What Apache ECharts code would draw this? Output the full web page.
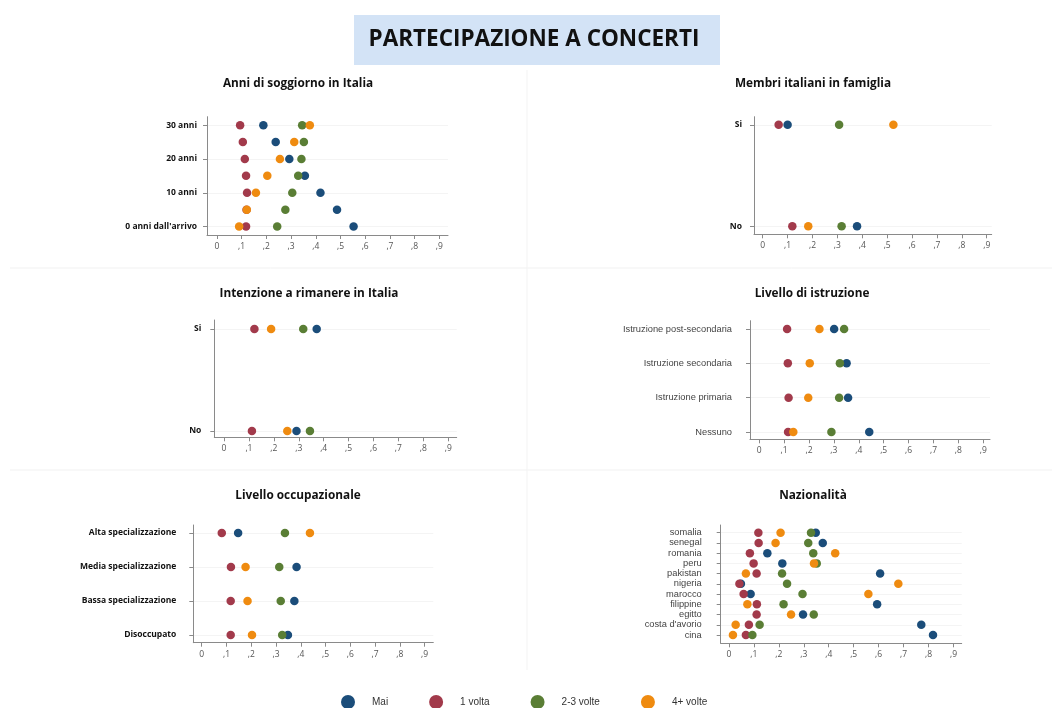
<!DOCTYPE html>
<html>
<head>
<meta charset="utf-8">
<script src="https://cdn.jsdelivr.net/npm/echarts@6/dist/echarts.min.js"></script>
<style>
html,body{margin:0;padding:0;background:#fff;}
#main{width:1062px;height:708px;}
</style>
</head>
<body>
<div id="main"></div>
<script>
// ---------- DATA ----------
const groupNames = ['Mai', '1 volta', '2-3 volte', '4+ volte'];
const xTicks = [0, 0.1, 0.2, 0.3, 0.4, 0.5, 0.6, 0.7, 0.8, 0.9];

// Panel 1: Anni di soggiorno in Italia (bottom -> top)
const soggiornoCats = ["0 anni dall'arrivo", "", "10 anni", "", "20 anni", "", "30 anni"];
const soggiornoMai    = [0.553, 0.486, 0.419, 0.356, 0.293, 0.238, 0.188];
const soggiorno1      = [0.118, 0.120, 0.122, 0.118, 0.113, 0.105, 0.094];
const soggiorno23     = [0.244, 0.277, 0.305, 0.329, 0.342, 0.352, 0.345];
const soggiorno4      = [0.090, 0.121, 0.158, 0.204, 0.255, 0.313, 0.376];

// Panel 2: Membri italiani in famiglia
const famigliaCats = ['No', 'Si'];
const famigliaMai = [0.379, 0.100];
const famiglia1   = [0.119, 0.064];
const famiglia23  = [0.317, 0.307];
const famiglia4   = [0.183, 0.525];

// Panel 3: Intenzione a rimanere in Italia
const intenzioneCats = ['No', 'Si'];
const intenzioneMai = [0.291, 0.372];
const intenzione1   = [0.112, 0.122];
const intenzione23  = [0.345, 0.318];
const intenzione4   = [0.254, 0.189];

// Panel 4: Livello di istruzione
const istruzioneCats = ['Nessuno', 'Istruzione primaria', 'Istruzione secondaria', 'Istruzione post-secondaria'];
const istruzioneMai = [0.442, 0.357, 0.351, 0.301];
const istruzione1   = [0.116, 0.118, 0.115, 0.112];
const istruzione23  = [0.290, 0.321, 0.324, 0.341];
const istruzione4   = [0.137, 0.197, 0.203, 0.242];

// Panel 5: Livello occupazionale
const occupCats = ['Disoccupato', 'Bassa specializzazione', 'Media specializzazione', 'Alta specializzazione'];
const occupMai = [0.348, 0.374, 0.383, 0.147];
const occup1   = [0.117, 0.117, 0.118, 0.081];
const occup23  = [0.325, 0.319, 0.313, 0.336];
const occup4   = [0.203, 0.185, 0.177, 0.437];

// Panel 6: Nazionalità
const nazCats = ['cina', "costa d'avorio", 'egitto', 'filippine', 'marocco', 'nigeria', 'pakistan', 'peru', 'romania', 'senegal', 'somalia'];
const nazMai = [0.818, 0.771, 0.297, 0.594, 0.087, 0.048, 0.606, 0.214, 0.154, 0.376, 0.348];
const naz1   = [0.068, 0.080, 0.111, 0.112, 0.059, 0.042, 0.111, 0.099, 0.084, 0.119, 0.118];
const naz23  = [0.094, 0.123, 0.340, 0.219, 0.295, 0.233, 0.213, 0.352, 0.338, 0.318, 0.329];
const naz4   = [0.016, 0.027, 0.249, 0.074, 0.559, 0.679, 0.068, 0.341, 0.426, 0.187, 0.207];

// ---------- STYLE / LAYOUT ----------
const colors = ['#1b4d7a', '#a23a4b', '#5a7e35', '#ef8b10'];
const boldLab = {fontFamily: 'Open Sans', fontWeight: 'bold', fontSize: 8.5, color: '#111'};
const plainLab = {fontFamily: 'Liberation Sans', fontWeight: 'normal', fontSize: 9.3, color: '#444'};

const panels = [
  {title: 'Anni di soggiorno in Italia', tx: 298, ty: 84, cats: soggiornoCats, vals: [soggiornoMai, soggiorno1, soggiorno23, soggiorno4],
   grid: {left: 207, top: 116.7, width: 241, height: 118.3}, xmin: -0.04, xmax: 0.935, ymin: -0.5, ymax: 6.5, lab: boldLab, margin: 10},
  {title: 'Membri italiani in famiglia', tx: 813, ty: 84, cats: famigliaCats, vals: [famigliaMai, famiglia1, famiglia23, famiglia4],
   grid: {left: 754, top: 116.7, width: 237.7, height: 117.6}, xmin: -0.035, xmax: 0.92, ymin: -0.08, ymax: 1.08, lab: boldLab, margin: 12},
  {title: 'Intenzione a rimanere in Italia', tx: 309, ty: 294, cats: intenzioneCats, vals: [intenzioneMai, intenzione1, intenzione23, intenzione4],
   grid: {left: 214.3, top: 320, width: 242.4, height: 117.3}, xmin: -0.039, xmax: 0.934, ymin: -0.062, ymax: 1.088, lab: boldLab, margin: 13},
  {title: 'Livello di istruzione', tx: 812, ty: 294, cats: istruzioneCats, vals: [istruzioneMai, istruzione1, istruzione23, istruzione4],
   grid: {left: 750, top: 320.7, width: 240, height: 118.6}, xmin: -0.037, xmax: 0.927, ymin: -0.21, ymax: 3.24, lab: plainLab, margin: 18},
  {title: 'Livello occupazionale', tx: 298, ty: 496, cats: occupCats, vals: [occupMai, occup1, occup23, occup4],
   grid: {left: 193.3, top: 525, width: 240, height: 117.7}, xmin: -0.034, xmax: 0.935, ymin: -0.226, ymax: 3.235, lab: boldLab, margin: 17},
  {title: 'Nazionalità', tx: 813, ty: 496, cats: nazCats, vals: [nazMai, naz1, naz23, naz4],
   grid: {left: 720.7, top: 525, width: 241, height: 118.3}, xmin: -0.033, xmax: 0.933, ymin: -0.81, ymax: 10.75, lab: plainLab, margin: 19}
];

const axisCol = '#8a8a8a';
const grids = [], xAxes = [], yAxes = [], series = [];
const graphics = [
  {type: 'line', shape: {x1: 10, y1: 268, x2: 1052, y2: 268}, style: {stroke: '#f1f1f1', lineWidth: 1}, silent: true},
  {type: 'line', shape: {x1: 10, y1: 470, x2: 1052, y2: 470}, style: {stroke: '#f1f1f1', lineWidth: 1}, silent: true},
  {type: 'line', shape: {x1: 527, y1: 70, x2: 527, y2: 670}, style: {stroke: '#f3f3f3', lineWidth: 1}, silent: true},
  {type: 'rect', shape: {x: 354, y: 15, width: 366, height: 50}, style: {fill: '#d3e3f6'}, silent: true},
  {type: 'text', x: 534, y: 40, style: {text: 'PARTECIPAZIONE A CONCERTI', font: 'bold 22.5px "Open Sans"', fill: '#111', textAlign: 'center', textVerticalAlign: 'middle'}, silent: true}
];

panels.forEach((p, i) => {
  grids.push(Object.assign({containLabel: false}, p.grid));
  graphics.push({type: 'text', x: p.tx, y: p.ty, style: {text: p.title, font: 'bold 11.8px "Open Sans"', fill: '#111', textAlign: 'center', textVerticalAlign: 'middle'}, silent: true});
  xAxes.push({
    type: 'value', gridIndex: i, min: p.xmin, max: p.xmax,
    axisLine: {show: true, onZero: false, lineStyle: {color: axisCol, width: 1}},
    axisTick: {show: true, length: 4, lineStyle: {color: axisCol}, customValues: xTicks},
    axisLabel: {show: true, fontSize: 8.5, color: '#555', fontFamily: 'Open Sans', margin: 7, customValues: xTicks,
      formatter: v => (Math.abs(v) < 1e-9 ? '0' : ',' + Math.round(v * 10))},
    splitLine: {show: false}
  });
  const labelIdx = p.cats.map((c, k) => k).filter(k => p.cats[k] !== '');
  yAxes.push({
    type: 'value', gridIndex: i, min: p.ymin, max: p.ymax,
    axisLine: {show: true, onZero: false, lineStyle: {color: axisCol, width: 1}},
    axisTick: {show: true, length: 4, lineStyle: {color: axisCol}, customValues: labelIdx},
    axisLabel: Object.assign({show: true, margin: p.margin, customValues: labelIdx,
      formatter: v => p.cats[Math.round(v)] || ''}, p.lab),
    splitLine: {show: true, lineStyle: {color: '#f4f4f4', width: 1}}
  });
  p.vals.forEach((arr, g) => {
    series.push({
      type: 'scatter', name: groupNames[g], xAxisIndex: i, yAxisIndex: i,
      symbol: 'circle', symbolSize: 8.5, z: 2 + g,
      itemStyle: {color: colors[g], opacity: 1},
      data: arr.map((v, k) => [v, k])
    });
  });
});

const chart = echarts.init(document.getElementById('main'), null, {renderer: 'canvas'});
chart.setOption({
  backgroundColor: '#fff',
  animation: false,
  color: colors,
  grid: grids,
  xAxis: xAxes,
  yAxis: yAxes,
  series: series,
  graphic: graphics,
  legend: {
    data: groupNames, left: 336, top: 690, padding: 5, itemWidth: 14, itemHeight: 14, itemGap: 41, icon: 'circle',
    formatter: n => '{a|' + n + '}',
    textStyle: {fontFamily: 'Liberation Sans', fontSize: 10, color: '#333', rich: {a: {padding: [0, 0, 0, 12], fontFamily: 'Liberation Sans', fontSize: 10, color: '#333'}}}
  }
});
</script>
</body>
</html>
